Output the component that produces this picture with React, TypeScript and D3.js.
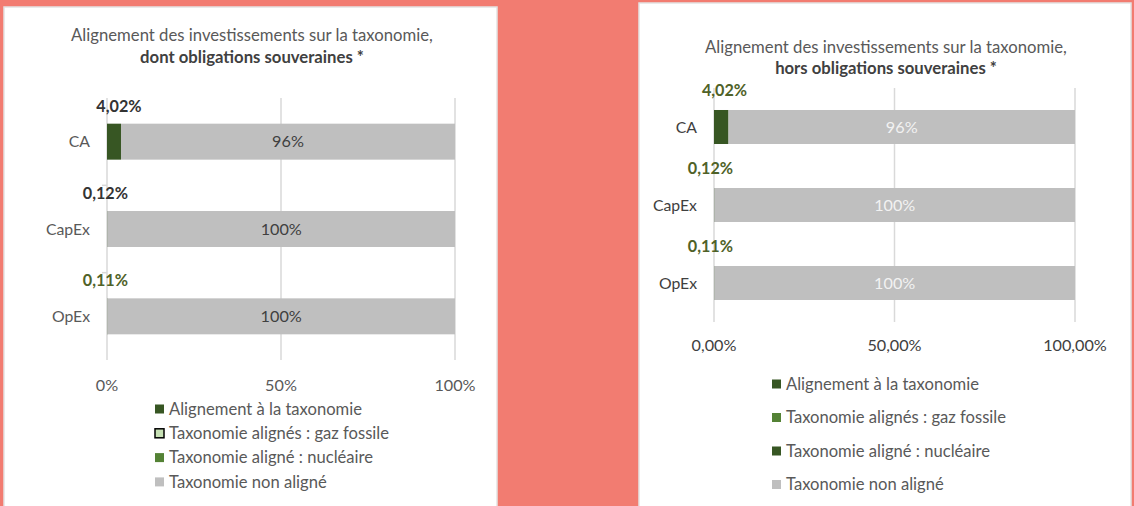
import React from "react";
import * as d3 from "d3";

const categories = ["CA", "CapEx", "OpEx"];
const seriesNames = [
  "Alignement à la taxonomie",
  "Taxonomie alignés : gaz fossile",
  "Taxonomie aligné : nucléaire",
  "Taxonomie non aligné",
];
const leftAligned = [4.02, 0.12, 0.11];
const leftGas = [0, 0, 0];
const leftNuclear = [0, 0, 0];
const leftNonAligned = [96, 100, 100];
const rightAligned = [4.02, 0.12, 0.11];
const rightGas = [0, 0, 0];
const rightNuclear = [0, 0, 0];
const rightNonAligned = [96, 100, 100];
const xTicks = [0, 50, 100];
const leftTitle = ["Alignement des investissements sur la taxonomie,", "dont obligations souveraines *"];
const rightTitle = ["Alignement des investissements sur la taxonomie,", "hors obligations souveraines *"];

const FONT = "Lato, 'Open Sans', sans-serif";
const TITLE_FS = 16.7;
const LEG_FS = 16.6;
const LBL_FS = 16.2;
const fmtComma = (v: number) => d3.format(".2f")(v).replace(".", ",") + "%";

type Cfg = {
  panel: [number, number, number, number];
  title: string[];
  titleX: number;
  titleY: [number, number];
  x0: number;
  x1: number;
  yTop: number;
  yBottom: number;
  pad: number;
  series: number[][];
  tickFmt: (v: number) => string;
  tickY: number;
  catX: number;
  catColor: string;
  tickColor: string;
  inLabelColor: string;
  topLabelColors: string[];
  topLabelDy: number;
  topLabelDx: number;
  legendX: number;
  legendY0: number;
  legendStep: number;
  legendColors: string[];
  legendStroke: (string | null)[];
  axisTicks: boolean;
};

function Chart({ c }: { c: Cfg }) {
  const x = d3.scaleLinear().domain([0, 100]).range([c.x0, c.x1]).clamp(true);
  const y = d3
    .scaleBand<string>()
    .domain(categories)
    .range([c.yTop, c.yBottom])
    .paddingInner(c.pad)
    .paddingOuter(c.pad / 2);
  const rows = categories.map((cat, i) => {
    const r: any = { cat };
    seriesNames.forEach((s, k) => (r[s] = c.series[k][i]));
    return r;
  });
  const stacked = d3.stack<any>().keys(seriesNames)(rows);
  const barColors = [c.legendColors[0], c.legendColors[1], c.legendColors[2], "#bfbfbf"];
  const [px, py, pw, ph] = c.panel;
  return (
    <g>
      <rect x={px} y={py} width={pw} height={ph} fill="#ffffff" stroke="#e3e3e3" strokeWidth={1.5} />
      <text x={c.titleX} y={c.titleY[0]} textAnchor="middle" fontSize={TITLE_FS} fill="#595959" fontFamily={FONT}>
        {c.title[0]}
      </text>
      <text x={c.titleX} y={c.titleY[1]} textAnchor="middle" fontSize={TITLE_FS} fontWeight="bold" fill="#404040" fontFamily={FONT}>
        {c.title[1]}
      </text>
      {xTicks.map((t) => (
        <line key={"g" + t} x1={x(t)} x2={x(t)} y1={c.yTop} y2={c.yBottom} stroke="#d9d9d9" strokeWidth={1.5} />
      ))}
      {c.axisTicks &&
        y.domain().slice(1).map((cat) => {
          const yy = (y(cat) as number) - (y.step() * c.pad) / 2;
          return <line key={"t" + cat} x1={c.x0 - 5} x2={c.x0} y1={yy} y2={yy} stroke="#d9d9d9" strokeWidth={1.5} />;
        })}
      {stacked.map((layer, k) =>
        layer.map((d, i) => {
          const w = x(d[1]) - x(d[0]);
          if (w <= 0) return null;
          return (
            <rect
              key={k + "-" + i}
              x={x(d[0])}
              y={y(categories[i])}
              width={w}
              height={y.bandwidth()}
              fill={barColors[k]}
            />
          );
        })
      )}
      {stacked[3].map((d, i) => (
        <text
          key={"in" + i}
          x={(x(d[0]) + x(d[1])) / 2}
          y={(y(categories[i]) as number) + y.bandwidth() / 2}
          dy="0.35em"
          textAnchor="middle"
          fontSize={LBL_FS}
          fill={c.inLabelColor}
          fontFamily={FONT}
        >
          {d3.format(".0f")(d[1] - d[0]) + "%"}
        </text>
      ))}
      {c.series[0].map((v, i) => (
        <text
          key={"top" + i}
          x={x(v) + c.topLabelDx}
          y={(y(categories[i]) as number) + c.topLabelDy}
          textAnchor="middle"
          fontSize={LBL_FS}
          fontWeight="bold"
          fill={c.topLabelColors[i]}
          fontFamily={FONT}
        >
          {fmtComma(v)}
        </text>
      ))}
      {categories.map((cat) => (
        <text
          key={"c" + cat}
          x={c.catX}
          y={(y(cat) as number) + y.bandwidth() / 2}
          dy="0.35em"
          textAnchor="end"
          fontSize={15.8}
          fill={c.catColor}
          fontFamily={FONT}
        >
          {cat}
        </text>
      ))}
      {xTicks.map((t) => (
        <text key={"xl" + t} x={x(t)} y={c.tickY} dy="0.35em" textAnchor="middle" fontSize={LBL_FS} fill={c.tickColor} fontFamily={FONT}>
          {c.tickFmt(t)}
        </text>
      ))}
      {seriesNames.map((s, k) => {
        const yy = c.legendY0 + k * c.legendStep;
        const stroke = c.legendStroke[k];
        return (
          <g key={"lg" + k}>
            <rect
              x={c.legendX}
              y={yy - 4.5}
              width={9}
              height={9}
              fill={k === 3 ? "#bfbfbf" : c.legendColors[k]}
              stroke={stroke ?? "none"}
              strokeWidth={stroke ? 1.5 : 0}
            />
            <text x={c.legendX + 14} y={yy} dy="0.35em" fontSize={LEG_FS} fill="#595959" fontFamily={FONT}>
              {s}
            </text>
          </g>
        );
      })}
    </g>
  );
}

const leftCfg: Cfg = {
  panel: [4, 7, 493, 505],
  title: leftTitle,
  titleX: 252,
  titleY: [41, 63],
  x0: 107,
  x1: 455,
  yTop: 98,
  yBottom: 360,
  pad: 0.588,
  series: [leftAligned, leftGas, leftNuclear, leftNonAligned],
  tickFmt: (v) => d3.format(".0f")(v) + "%",
  tickY: 385,
  catX: 90,
  catColor: "#595959",
  tickColor: "#595959",
  inLabelColor: "#404040",
  topLabelColors: ["#333333", "#333333", "#4f6228"],
  topLabelDy: -12,
  topLabelDx: -2,
  legendX: 155,
  legendY0: 409,
  legendStep: 24.3,
  legendColors: ["#375623", "#c6e0b4", "#548235"],
  legendStroke: [null, "#000000", null],
  axisTicks: true,
};

const rightCfg: Cfg = {
  panel: [639, 3, 492, 510],
  title: rightTitle,
  titleX: 886,
  titleY: [53, 74],
  x0: 714,
  x1: 1075,
  yTop: 88,
  yBottom: 322,
  pad: 0.564,
  series: [rightAligned, rightGas, rightNuclear, rightNonAligned],
  tickFmt: (v) => d3.format(".2f")(v).replace(".", ",") + "%",
  tickY: 345,
  catX: 697,
  catColor: "#404040",
  tickColor: "#404040",
  inLabelColor: "#f2f2f2",
  topLabelColors: ["#4f6228", "#4f6228", "#4f6228"],
  topLabelDy: -14,
  topLabelDx: -4,
  legendX: 772,
  legendY0: 384,
  legendStep: 33.5,
  legendColors: ["#375623", "#548235", "#375623"],
  legendStroke: [null, null, null],
  axisTicks: false,
};

export default function App() {
  return (
    <svg
      width={1134}
      height={506}
      style={{ position: "absolute", left: 0, top: 0 }}
      fontFamily={FONT}
    >
      <rect x={0} y={0} width={1134} height={506} fill="#f27c71" />
      <Chart c={leftCfg} />
      <Chart c={rightCfg} />
    </svg>
  );
}
